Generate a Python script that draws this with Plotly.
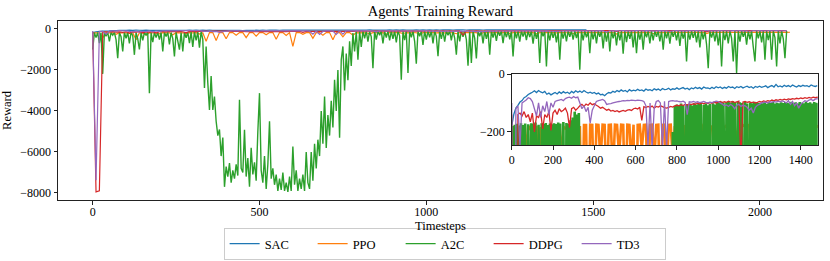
import plotly.graph_objects as go

# ---------------- data ----------------
series_names = ["SAC", "PPO", "A2C", "DDPG", "TD3"]
series_colors = ["#1f77b4", "#ff7f0e", "#2ca02c", "#d62728", "#9467bd"]

# sampled every 10 timesteps
sac_every = 10
sac_reward = [
    -180, -140, -118, -108, -97, -92, -82, -78, -71, -67,
    -63, -58, -64, -57, -62, -65, -60, -70, -66, -72,
    -68, -64, -69, -62, -67, -61, -66, -63, -68, -60,
    -65, -58, -63, -59, -64, -57, -62, -66, -63, -67,
    -64, -69, -66, -72, -70, -75, -68, -64, -66, -60,
    -63, -57, -61, -55, -60, -57, -62, -54, -59, -56,
    -58, -53, -57, -55, -59, -52, -56, -54, -58, -51,
    -55, -52, -57, -50, -54, -53, -49, -55, -51, -53,
    -48, -53, -50, -47, -52, -49, -54, -48, -51, -46,
    -50, -47, -52, -45, -49, -48, -51, -46, -50, -44,
    -48, -45, -50, -46, -49, -43, -47, -45, -50, -44,
    -47, -43, -48, -45, -42, -47, -44, -49, -43, -46,
    -42, -46, -44, -41, -47, -43, -40, -45, -36, -44,
    -41, -45, -39, -43, -40, -44, -38, -42, -45, -40,
    -43, -39, -42, -40, -44, -38, -41, -43, -40,
]

ppo_every = 10
ppo_reward = [
    -200, -185, -190, -430, -180, -195, -185, -260, -180, -190,
    -185, -210, -180, -520, -185, -190, -300, -182, -188, -185,
    -240, -180, -190, -185, -280, -182, -188, -183, -230, -180,
    -186, -182, -250, -180, -600, -176, -176, -560, -175, -176,
    -480, -175, -176, -300, -175, -176, -420, -176, -175, -350,
    -175, -176, -280, -175, -176, -500, -175, -176, -320, -175,
    -850, -176, -175, -260, -176, -175, -450, -176, -175, -300,
    -176, -175, -520, -176, -175, -380, -176, -175, -300, -180,
    -190, -178, -185, -240, -180, -176, -188, -182, -260, -179,
    -184, -180, -177, -220, -181, -186, -179, -183, -250, -178,
    -182, -177, -180, -185, -178, -200, -176, -183, -181, -230,
    -179, -184, -177, -182, -180, -176, -260, -181, -178, -183,
    -180, -177, -185, -179, -182, -210, -178, -181, -176, -184,
    -179, -182, -177, -240, -180, -183, -178, -181, -176, -185,
    -180, -178, -183, -177, -220, -181, -179, -176, -182, -178,
    -175, -180, -172, -178, -170, -176, -173, -250, -171, -177,
    -174, -170, -176, -172, -178, -169, -175, -171, -230, -173,
    -170, -175, -168, -173, -171, -166, -174, -169, -172, -167,
    -171, -166, -173, -168, -220, -165, -170, -167, -172, -164,
    -168, -163, -170, -165, -167, -162, -169, -164, -166, -161,
    -165, -160, -167, -162, -164, -159, -166, -161, -163, -160,
]

# sampled every 5 timesteps
a2c_every = 5
a2c_reward = [
    -1000, -180, -420, -175, -690, -172, -2190, -178, -350, -170, -600, -176, -300, -171, -520, -1420, -174, -380, -1090, -170,
    -450, -172, -700, -168, -330, -1260, -175, -480, -1000, -170, -560, -173, -290, -169, -3130, -176, -640, -171, -410, -174,
    -520, -170, -1090, -173, -360, -168, -750, -171, -470, -1340, -166, -580, -1010, -169, -1090, -172, -430, -160, -690, -150,
    -880, -130, -560, -140, -910, -135, -500, -2880, -850, -2630, -3950, -2300, -3950, -3300, -4500, -5200, -4900, -6200, -5300, -7700,
    -6710, -7200, -6540, -7500, -6900, -7300, -6600, -7150, -3450, -6800, -7000, -4920, -7200, -6300, -7700, -5800, -7100, -6500, -7400, -5000,
    -3130, -6900, -7500, -6200, -7800, -6600, -4500, -7300, -6800, -7600, -7100, -7900, -7300, -7850, -7000, -7900, -7500, -7950, -7200, -7900,
    -5740, -7600, -6900, -7900, -7300, -7800, -7100, -7900, -6000, -7500, -7800, -6000, -7400, -5600, -6800, -5400, -6200, -4000, -5600, -3290,
    -5800, -4200, -5200, -3500, -4800, -2480, -4000, -2000, -5300, -1500, -850, -3000, -1200, -2500, -600, -1800, -200, -1100, -110, -1500,
    -105, -870, -108, -450, -102, -620, -110, -380, -1910, -104, -520, -107, -300, -103, -700, -109, -420, -101, -560, -106,
    -480, -104, -650, -100, -330, -2480, -106, -540, -102, -2150, -108, -400, -103, -600, -1690, -101, -350, -105, -780, -99,
    -520, -98, -410, -96, -700, -100, -360, -1330, -97, -480, -95, -620, -99, -300, -94, -550, -98, -440, -1250, -96,
    -600, -98, -380, -100, -520, -1790, -97, -1660, -102, -450, -1440, -99, -350, -101, -700, -96, -480, -98, -1260, -100,
    -420, -99, -580, -101, -330, -97, -690, -103, -400, -98, -510, -100, -1340, -96, -450, -102, -620, -99, -370, -101,
    -540, -98, -400, -100, -720, -97, -480, -99, -1660, -101, -350, -96, -1830, -100, -560, -98, -430, -102, -650, -97,
    -1500, -99, -470, -101, -600, -96, -380, -100, -520, -98, -440, -102, -1990, -97, -560, -99, -410, -101, -1180, -98,
    -500, -100, -700, -97, -380, -101, -950, -99, -620, -96, -1100, -100, -450, -98, -800, -102, -560, -97, -1200, -99,
    -640, -101, -480, -98, -900, -100, -1180, -96, -520, -99, -1010, -102, -410, -97, -700, -100, -560, -98, -380, -101,
    -600, -98, -1010, -100, -450, -97, -720, -101, -380, -99, -560, -96, -830, -100, -470, -98, -1580, -102, -520, -99,
    -430, -101, -650, -97, -900, -100, -500, -98, -760, -1910, -99, -420, -102, -600, -97, -800, -100, -1830, -98, -540,
    -101, -700, -97, -450, -1580, -99, -2150, -100, -620, -98, -380, -102, -760, -96, -500, -101, -880, -1580, -99, -450,
    -100, -650, -98, -1500, -101, -540, -97, -1500, -99, -420, -1830, -100, -700, -98, -480, -1420, -101,
]

ddpg_every = 10
ddpg_reward = [
    -140, -7950, -7900, -140, -135, -145, -130, -150, -140, -165,
    -135, -200, -145, -150, -130, -190, -140, -150, -130, -195,
    -135, -125, -140, -120, -130, -125, -118, -135, -185, -120,
    -115, -125, -118, -110, -105, -112, -104, -108, -100, -106,
    -103, -108, -112, -118, -115, -120, -125, -122, -128, -126,
    -130, -127, -131, -128, -126, -129, -125, -123, -126, -120,
    -118, -121, -115, -160, -113, -116, -112, -115, -111, -118,
    -112, -114, -110, -113, -116, -118, -115, -112, -114, -110,
    -108, -110, -106, -109, -105, -107, -104, -106, -103, -105,
    -101, -104, -100, -103, -99, -102, -98, -101, -97, -100,
    -98, -95, -99, -96, -98, -94, -97, -95, -99, -96,
    -94, -300, -97, -95, -98, -96, -99, -97, -100, -98,
    -95, -97, -93, -95, -92, -94, -90, -93, -89, -91,
    -88, -90, -87, -89, -86, -88, -85, -87, -84, -86,
    -83, -85, -82, -84, -81, -83, -80, -82, -80, -82,
    -79, -83, -80, -84, -78, -82, -81, -120, -79, -83,
    -80, -78, -82, -79, -83, -80, -77, -81, -79, -82,
    -78, -81, -79, -83, -77, -80, -78, -82, -79, -80,
    -77, -81, -78, -80, -140, -79, -82, -78, -80, -77,
    -81, -78, -80, -76, -79, -82, -77, -80, -78, -81,
    -79, -77, -80, -78, -81, -76, -79, -77, -80,
]

td3_every = 10
td3_reward = [
    -100, -7380, -120, -110, -250, -100, -95, -90, -82, -85,
    -95, -120, -145, -100, -150, -110, -130, -95, -140, -100,
    -115, -95, -92, -90, -88, -92, -85, -82, -80, -84,
    -78, -82, -80, -100, -120, -110, -130, -115, -170, -125,
    -110, -95, -92, -90, -88, -92, -105, -103, -102, -100,
    -98, -96, -95, -94, -92, -93, -91, -92, -90, -91,
    -92, -90, -91, -92, -95, -110, -250, -100, -260, -120,
    -95, -92, -100, -260, -94, -255, -95, -93, -92, -94,
    -93, -95, -96, -94, -98, -140, -96, -97, -95, -98,
    -96, -99, -97, -95, -98, -100, -97, -99, -96, -94,
    -95, -100, -104, -110, -107, -112, -105, -110, -120, -108,
    -105, -112, -108, -110, -115, -125, -118, -135, -115, -108,
    -105, -100, -98, -97, -100, -96, -98, -95, -97, -94,
    -96, -93, -95, -100, -92, -105, -95, -110, -100, -118,
    -105, -98, -92, -95, -90, -88, -92, -87, -85, -88,
    -86, -90, -84, -88, -150, -87, -85, -89, -86, -84,
    -88, -85, -87, -83, -86, -89, -84, -87, -85, -88,
    -84, -87, -85, -120, -86, -84, -88, -85, -87, -83,
    -86, -84, -88, -85, -83, -87, -85, -89, -84, -86,
    -85, -88, -84, -86, -83, -87, -85, -110, -84, -86,
    -84, -87, -85, -83, -86, -84, -88, -85, -83,
]

main_x_ticks = [0, 500, 1000, 1500, 2000]
main_y_ticks = [0, -2000, -4000, -6000, -8000]
inset_x_ticks = [0, 200, 400, 600, 800, 1000, 1200, 1400]
inset_y_ticks = [0, -200]

all_values = [sac_reward, ppo_reward, a2c_reward, ddpg_reward, td3_reward]
all_every = [sac_every, ppo_every, a2c_every, ddpg_every, td3_every]

# ---------------- figure ----------------
FONT = "Liberation Serif"
fig = go.Figure()

for name, color, vals, every in zip(series_names, series_colors, all_values, all_every):
    steps = [i * every for i in range(len(vals))]
    w = 1.4 if name == "A2C" else 1.2
    fig.add_trace(go.Scatter(x=steps, y=vals, mode="lines", name=name,
                             line=dict(color=color, width=w, simplify=False),
                             xaxis="x", yaxis="y"))
for name, color, vals, every in zip(series_names, series_colors, all_values, all_every):
    steps = [i * every for i in range(len(vals))]
    w = 2.6 if name in ("A2C", "PPO") else 1.3
    fig.add_trace(go.Scatter(x=steps, y=vals, mode="lines", name=name,
                             line=dict(color=color, width=w, simplify=False),
                             showlegend=False, xaxis="x2", yaxis="y2"))

axis_common = dict(showline=True, mirror=True, linecolor="#222", linewidth=1,
                   ticks="outside", ticklen=3.5, tickwidth=1, tickcolor="#222",
                   showgrid=False, zeroline=False, automargin=False,
                   tickfont=dict(family=FONT, size=12, color="black"))

fig.update_layout(
    width=830, height=261,
    margin=dict(l=58, r=7, t=21, b=61),
    paper_bgcolor="white", plot_bgcolor="white",
    font=dict(family=FONT, size=12, color="black"),
    title=dict(text="Agents' Training Reward", x=0.5305, xanchor="center",
               y=0.958, yanchor="middle", yref="container",
               font=dict(family=FONT, size=14.5, color="black")),
    xaxis=dict(range=[-104, 2189], tickvals=main_x_ticks,
               ticklabelstandoff=-3, **axis_common),
    yaxis=dict(range=[-8343, 390], tickvals=main_y_ticks,
               title=dict(text="Reward", standoff=6,
                          font=dict(family=FONT, size=12.5)),
               **axis_common),
    xaxis2=dict(domain=[0.5931, 0.9931], anchor="y2", range=[0, 1482],
                tickvals=inset_x_ticks, **axis_common),
    yaxis2=dict(domain=[0.3045, 0.7039], anchor="x2", range=[-247, 0],
                tickvals=inset_y_ticks, **axis_common),
    legend=dict(orientation="h", x=0.5054, xanchor="center",
                y=0.1264, yanchor="top", yref="container",
                bordercolor="#cccccc", borderwidth=1, bgcolor="white",
                font=dict(family=FONT, size=12.5, color="black"),
                entrywidth=43, entrywidthmode="pixels", itemwidth=30,
                traceorder="normal"),
    showlegend=True,
    annotations=[dict(text="Timesteps", xref="paper", yref="paper",
                      x=0.5, y=-0.147, xanchor="center", yanchor="middle",
                      showarrow=False,
                      font=dict(family=FONT, size=12.5, color="black"))],
)

fig.write_html("out.html", config={"displayModeBar": False})

# remove the browser's default page margin so the figure sits at (0, 0)
with open("out.html", "r", encoding="utf-8") as fh:
    page = fh.read()
page = page.replace("<head>", "<head><style>html,body{margin:0;padding:0;overflow:hidden;}</style>", 1)
with open("out.html", "w", encoding="utf-8") as fh:
    fh.write(page)
